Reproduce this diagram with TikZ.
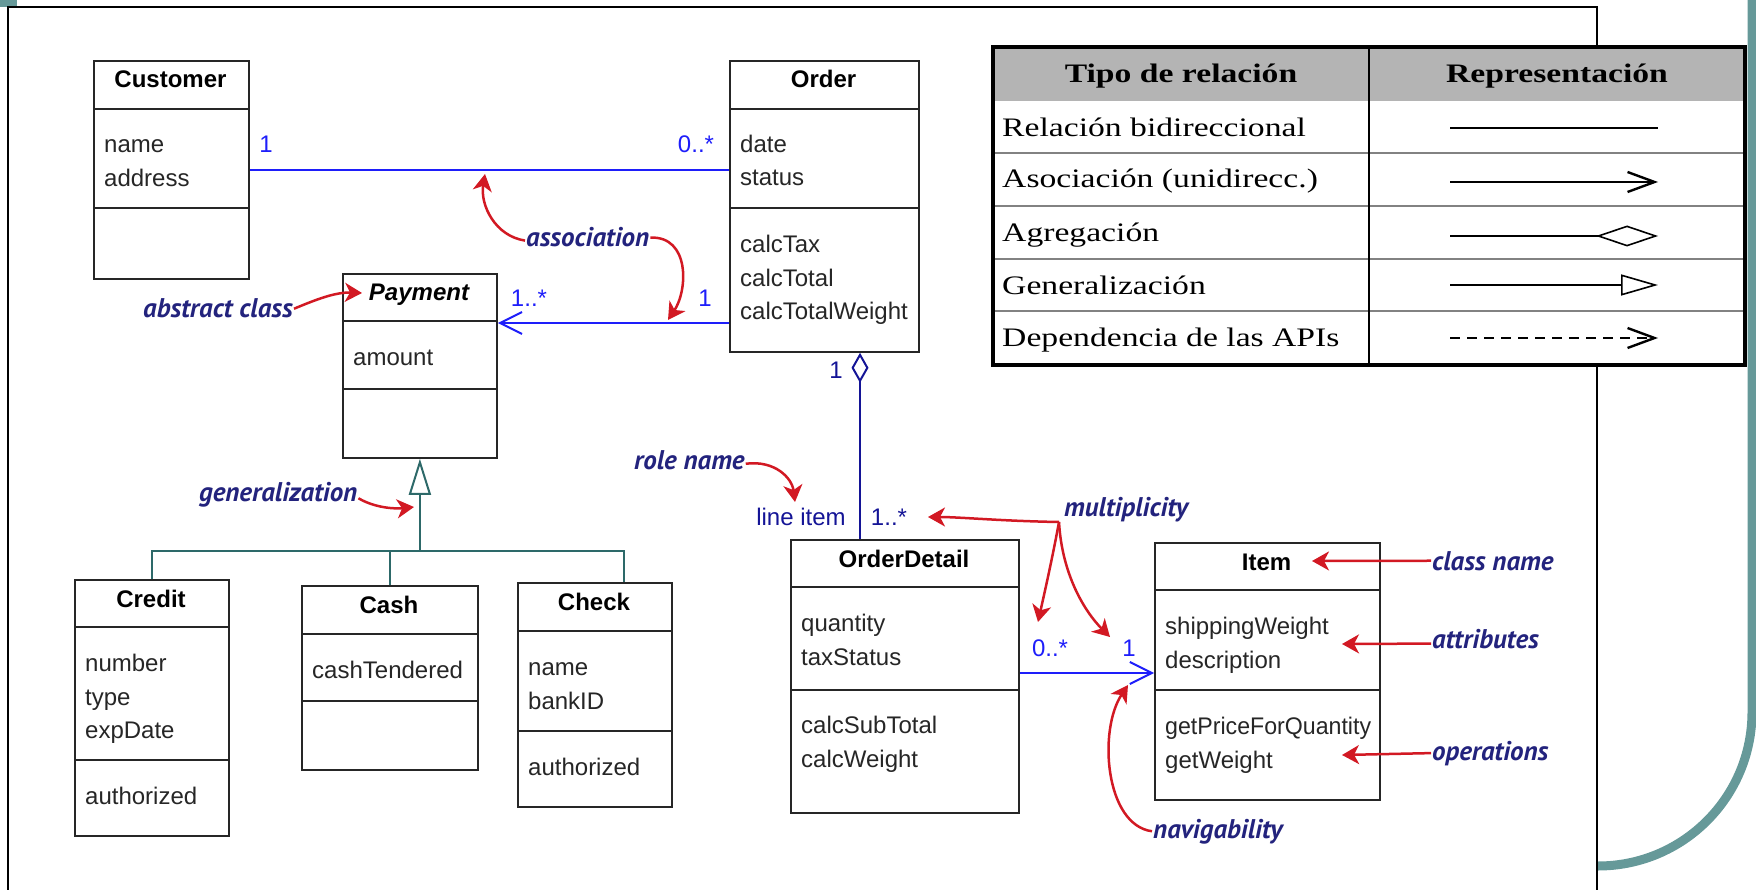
\documentclass[tikz,border=0pt]{standalone}
\usepackage{graphicx}
\usepackage{fontspec}
\setmainfont{Liberation Sans}
\newfontfamily\legendfont{Liberation Serif}[FakeStretch=1.26]
\newfontfamily\annfont{PT Sans}
\usetikzlibrary{arrows.meta}

\definecolor{slideteal}{RGB}{102,153,153}
\definecolor{treeteal}{RGB}{45,105,105}
\definecolor{assocblue}{RGB}{30,30,250}
\definecolor{aggblue}{RGB}{20,20,150}
\definecolor{notered}{RGB}{210,25,35}
\definecolor{notenavy}{RGB}{35,35,125}
\definecolor{headgray}{RGB}{180,180,180}
\definecolor{rowgray}{RGB}{130,130,130}

% class box: name, left, top, width, height, first rule y, second rule y
\newcommand\umlclass[7]{%
  \node[classbox, minimum width=#4, minimum height=#5] (#1) at (#2,#3) {};
  \draw[classrule] (#1.west |- 0,#6) -- (#1.east |- 0,#6);
  \draw[classrule] (#1.west |- 0,#7) -- (#1.east |- 0,#7);
}
% one line of a compartment: node name, left, baseline, text
\newcommand\umlline[4]{\node[cattr] (#1) at (#2,#3) {#4};}

\begin{document}
\begin{tikzpicture}[x=1pt,y=-1pt,
  classbox/.style={draw=black!85, line width=1.8pt, inner sep=0pt, anchor=north west, fill=white},
  classrule/.style={draw=black!85, line width=1.8pt},
  ctitle/.style={anchor=base, inner sep=0pt, font=\fontsize{24}{34}\selectfont\bfseries},
  cattr/.style={anchor=base west, inner sep=0pt, text=black!85, font=\fontsize{24}{34}\selectfont},
  mult/.style={anchor=base, inner sep=0pt, text=assocblue, font=\fontsize{24}{34}\selectfont},
  multdark/.style={mult, text=aggblue},
  assoc/.style={draw=assocblue, line width=2pt},
  navarrow/.style={assoc, -{Straight Barb[length=22pt,width=22pt]}},
  aggline/.style={draw=aggblue, line width=2pt, {Diamond[open,length=30pt,width=17pt]}-},
  genline/.style={draw=treeteal, line width=2pt},
  note/.style={anchor=base west, inner sep=1pt, text=notenavy, font=\annfont\fontsize{27}{32}\selectfont\bfseries\itshape},
  notearrow/.style={draw=notered, line width=2.5pt, -{Stealth[length=17pt,width=19pt,inset=5pt]}},
  legendtext/.style={anchor=base west, inner sep=0pt, font=\legendfont\fontsize{26.7}{32}\selectfont},
  legendhead/.style={legendtext, anchor=base, font=\legendfont\fontsize{26.7}{32}\selectfont\bfseries},
  legendrule/.style={draw=rowgray, line width=1.5pt},
  legendline/.style={draw=black, line width=2.4pt},
]
\useasboundingbox (0,0) rectangle (1756,890);

% slide frame and decoration
\fill[slideteal] (0,0) rectangle (17,7);
\draw[slideteal, line width=9pt] (1752,0) -- (1752,712) arc[start angle=0, end angle=-90, radius=154pt];
\draw[black, line width=2pt] (8,890) -- (8,7.5) -- (1597,7.5) -- (1597,890);

% classes
\umlclass{cust}{93}{60}{155}{218}{109}{208}
\umlclass{ord}{729}{60}{189}{291}{109}{208}
\umlclass{pay}{342}{273}{154}{184}{321}{389}
\umlclass{cred}{74}{579}{154}{256}{627}{760}
\umlclass{cash}{301}{585}{176}{184}{634}{701}
\umlclass{chk}{517}{582}{154}{224}{631}{731}
\umlclass{od}{790}{539}{228}{273}{587}{690}
\umlclass{item}{1154}{542}{225}{257}{590}{690}

\node[ctitle] (custT) at (170.5,88) {Customer};
\node[ctitle] (ordT) at (823.5,88) {Order};
\node[ctitle, font=\fontsize{24}{34}\selectfont\bfseries\itshape] (payT) at (419,301) {Payment};
\node[ctitle] (credT) at (151,607) {Credit};
\node[ctitle] (cashT) at (389,613) {Cash};
\node[ctitle] (chkT) at (594,610) {Check};
\node[ctitle] (odT) at (904,567) {OrderDetail};
\node[ctitle] (itemT) at (1266.5,570) {Item};

\umlline{custA}{104}{153}{name}
\umlline{custB}{104}{187}{address}
\umlline{ordA}{740}{153}{date}
\umlline{ordB}{740}{186}{status}
\umlline{ordC}{740}{253}{calcTax}
\umlline{ordD}{740}{287}{calcTotal}
\umlline{ordE}{740}{320}{calcTotalWeight}
\umlline{payA}{353}{366}{amount}
\umlline{credA}{85}{671}{number}
\umlline{credB}{85}{705}{type}
\umlline{credC}{85}{738}{expDate}
\umlline{credD}{85}{804}{authorized}
\umlline{cashA}{312}{678}{cashTendered}
\umlline{chkA}{528}{675}{name}
\umlline{chkB}{528}{709}{bankID}
\umlline{chkC}{528}{775}{authorized}
\umlline{odA}{801}{631}{quantity}
\umlline{odB}{801}{665}{taxStatus}
\umlline{odC}{801}{733}{calcSubTotal}
\umlline{odD}{801}{767}{calcWeight}
\umlline{itemA}{1165}{634}{shippingWeight}
\umlline{itemB}{1165}{668}{description}
\umlline{itemC}{1165}{734}{\scalebox{0.965}[1]{getPriceForQuantity}}
\umlline{itemD}{1165}{768}{getWeight}

% associations
\draw[assoc] (cust.east) -- (cust.east -| ord.west);
\coordinate (ordpay) at ([yshift=-263pt]ord.north west);
\draw[navarrow] (ordpay) -- (ordpay -| pay.east);
\coordinate (oditem) at ([yshift=-134pt]od.north east);
\draw[navarrow] (oditem) -- (oditem -| item.west);
\coordinate (aggtop) at ([xshift=131pt]ord.south west);
\draw[aggline] (aggtop) -- (aggtop |- od.north);

% generalization tree
\coordinate (gjunc) at ([yshift=-92pt]pay.south);
\coordinate (chkdrop) at ([xshift=107pt]chk.north west);
\draw[genline, -{Triangle[open,length=36pt,width=22pt]}] (gjunc) -- (pay.south);
\draw[genline] (cred.north) |- (gjunc) -| (chkdrop);
\draw[genline] (cash.north) -- (cash.north |- gjunc);

% multiplicities and role
\node[mult] (m1) at (266,153) {1};
\node[mult] (m2) at (696,153) {0..*};
\node[mult] (m3) at (529,307) {1..*};
\node[mult] (m4) at (705,307) {1};
\node[multdark] (m5) at (836,378) {1};
\node[multdark] (m6) at (801,525) {line item};
\node[multdark] (m7) at (889,525) {1..*};
\node[mult] (m8) at (1050,656) {0..*};
\node[mult] (m9) at (1129,656) {1};

% annotations
\node[note] (assocNote) at (525,247) {association};
\node[note] (abstractNote) at (142,318) {abstract class};
\node[note] (genNote) at (198,501) {generalization};
\node[note] (roleNote) at (633,469) {role name};
\node[note] (multNote) at (1063,516) {multiplicity};
\node[note] (cnameNote) at (1431,570) {class name};
\node[note] (attrNote) at (1431,648) {attributes};
\node[note] (opsNote) at (1431,760) {operations};
\node[note] (navNote) at (1152,838) {navigability};

\coordinate (tipAssocUp) at (485,174);
\coordinate (tipAssocDown) at (668,320);
\coordinate (tipAbstract) at (362,293);
\coordinate (tipGen) at (414,507);
\coordinate (tipRole) at (795,502);
\coordinate (multO) at (1059,522);
\coordinate (tipMultA) at (928,517);
\coordinate (tipMultB) at (1038,622);
\coordinate (tipMultC) at (1110,637);
\coordinate (tipCname) at (1312,561);
\coordinate (tipAttr) at (1342,644);
\coordinate (tipOps) at (1342,755);
\coordinate (tipNav) at (1128,685);

\draw[notearrow] ([yshift=-3pt]assocNote.west) .. controls (495,236) and (480,205) .. (tipAssocUp);
\draw[notearrow] (assocNote.east) .. controls (690,236) and (688,290) .. (tipAssocDown);
\draw[notearrow] (abstractNote.east) .. controls (315,300) and (335,292) .. (tipAbstract);
\draw[notearrow] ([yshift=-4pt]genNote.east) .. controls (375,508) and (395,509) .. (tipGen);
\draw[notearrow] ([yshift=-4pt]roleNote.east) .. controls (775,460) and (792,478) .. (tipRole);
\draw[notearrow] (multO) .. controls (1000,521) and (960,517) .. (tipMultA);
\draw[notearrow] (multO) .. controls (1052,560) and (1044,595) .. (tipMultB);
\draw[notearrow] (multO) .. controls (1062,575) and (1085,612) .. (tipMultC);
\draw[notearrow] (cnameNote.west) -- (tipCname);
\draw[notearrow] ([yshift=-5pt]attrNote.west) -- (tipAttr);
\draw[notearrow] (opsNote.west) -- (tipOps);
\draw[notearrow] (navNote.west) .. controls (1105,825) and (1098,730) .. (tipNav);

% legend table
\node[fill=white, inner sep=0pt, outer sep=0pt, minimum width=752, minimum height=318, anchor=north west] (legend) at (993,47) {};
\fill[headgray] (legend.north west) rectangle ([yshift=-54pt]legend.north east);
\foreach \yy in {153,206,259,311} \draw[legendrule] (993,\yy) -- (1745,\yy);
\draw[black, line width=1.5pt] (1369,47) -- (1369,365);
\draw[black, line width=3.5pt] (legend.north west) rectangle (legend.south east);

\node[legendhead] (lh1) at (1181,83) {Tipo de relación};
\node[legendhead] (lh2) at (1557,83) {Representación};
\node[legendtext] (lr1) at (1002,137) {Relación bidireccional};
\node[legendtext] (lr2) at (1002,188) {Asociación (unidirecc.)};
\node[legendtext] (lr3) at (1002,242) {Agregación};
\node[legendtext] (lr4) at (1002,295) {Generalización};
\node[legendtext] (lr5) at (1002,347) {Dependencia de las APIs};

\coordinate (ra1) at (1450,128); \coordinate (rb1) at (1658,128);
\coordinate (ra2) at (1450,182); \coordinate (rb2) at (1658,182);
\coordinate (ra3) at (1450,236); \coordinate (rb3) at (1658,236);
\coordinate (ra4) at (1450,285); \coordinate (rb4) at (1658,285);
\coordinate (ra5) at (1450,338); \coordinate (rb5) at (1658,338);
\draw[legendline] (ra1) -- (rb1);
\draw[legendline, -{Straight Barb[length=27pt,width=20pt]}] (ra2) -- (rb2);
\draw[legendline, -{Diamond[open,line width=1.6pt,length=62pt,width=21pt]}] (ra3) -- (rb3);
\draw[legendline, -{Triangle[open,line width=1.6pt,length=37pt,width=21pt]}] (ra4) -- (rb4);
\draw[legendline, dash pattern=on 10pt off 7pt, -{Straight Barb[length=27pt,width=20pt]}] (ra5) -- (rb5);
\end{tikzpicture}
\end{document}
